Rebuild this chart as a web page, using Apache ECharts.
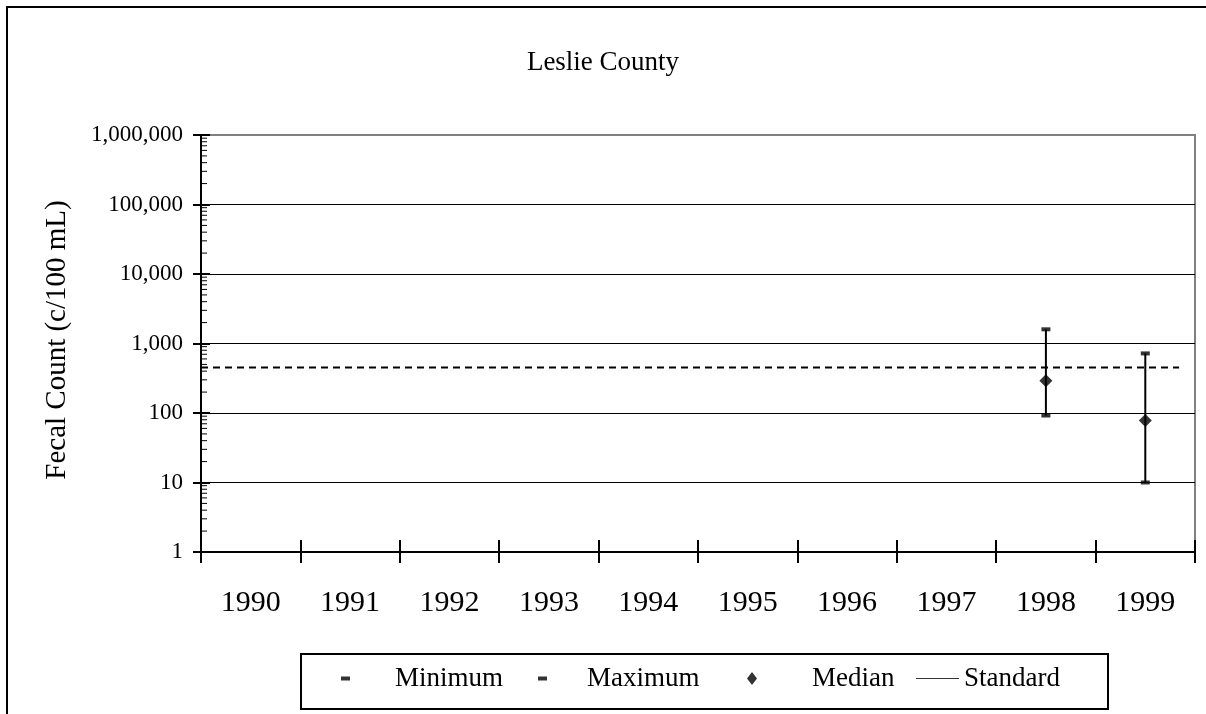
<!DOCTYPE html>
<html><head><meta charset="utf-8">
<script src="https://cdn.jsdelivr.net/npm/echarts@6/dist/echarts.min.js"></script>
<style>html,body{margin:0;padding:0;background:#fff}#chart{width:1206px;height:714px}</style>
</head><body><div id="chart"></div>
<script>
// ---- data ----
const years = ['1990','1991','1992','1993','1994','1995','1996','1997','1998','1999'];
const minimum = [null,null,null,null,null,null,null,null,92,10];
const maximum = [null,null,null,null,null,null,null,null,1600,720];
const median  = [null,null,null,null,null,null,null,null,290,78];
const standardValue = 450;
const yTickLabels = ['1','10','100','1,000','10,000','100,000','1,000,000'];
const decades = [1,10,100,1000,10000,100000];
const minorMultipliers = [2,3,4,5,6,7,8,9];

const FONT = 'Liberation Serif';
const minorTicks = [];
decades.forEach(d => minorMultipliers.forEach(m => minorTicks.push([0, d * m])));
const highLow = [];
years.forEach((y, i) => { if (minimum[i] != null && maximum[i] != null) highLow.push([i, minimum[i], maximum[i]]); });

const chart = echarts.init(document.getElementById('chart'), null, {renderer: 'canvas'});
const tickStyle = {color: '#000', width: 2};
chart.setOption({
  animation: false,
  backgroundColor: '#fff',
  title: {
    text: 'Leslie County', left: 'center', top: 44,
    textStyle: {fontFamily: FONT, fontSize: 27, fontWeight: 'normal', color: '#000'}
  },
  grid: {left: 201, right: 11, top: 135, bottom: 162, show: true, borderColor: '#808080', borderWidth: 2, backgroundColor: 'transparent'},
  xAxis: [{
    type: 'category', data: years, position: 'bottom', boundaryGap: true,
    axisLine: {show: true, lineStyle: {color: '#000', width: 2}},
    axisTick: {show: true, length: 11, lineStyle: tickStyle},
    axisLabel: {fontFamily: FONT, fontSize: 30, color: '#000', margin: 36},
    splitLine: {show: false}
  }, {
    type: 'category', data: years, position: 'bottom', boundaryGap: true,
    axisLine: {show: false},
    axisTick: {show: true, inside: true, length: 12, lineStyle: tickStyle},
    axisLabel: {show: false}, splitLine: {show: false}
  }],
  yAxis: [{
    type: 'log', logBase: 10, min: 1, max: 1000000,
    axisLine: {show: true, onZero: false, lineStyle: {color: '#000', width: 2}},
    axisTick: {show: true, length: 8, lineStyle: tickStyle},
    axisLabel: {fontFamily: FONT, fontSize: 23, color: '#000', margin: 18,
      formatter: v => yTickLabels[Math.round(Math.log10(v))]},
    splitLine: {show: true, lineStyle: {color: ['#000','#000','#000','#000','#000','#000','#808080'], width: 1}}
  }, {
    type: 'log', logBase: 10, min: 1, max: 1000000, position: 'left',
    axisLine: {show: false},
    axisTick: {show: true, inside: true, length: 9, lineStyle: tickStyle},
    axisLabel: {show: false}, splitLine: {show: false}
  }],
  legend: [
    {data: [{name: 'Minimum', icon: 'rect'}], left: 341, top: 665, padding: 0, itemWidth: 9, itemHeight: 4, selectedMode: false,
      textStyle: {fontFamily: FONT, fontSize: 27, color: '#000', padding: [0,0,0,40]}},
    {data: [{name: 'Maximum', icon: 'rect'}], left: 538, top: 665, padding: 0, itemWidth: 9, itemHeight: 4, selectedMode: false,
      textStyle: {fontFamily: FONT, fontSize: 27, color: '#000', padding: [0,0,0,35]}},
    {data: [{name: 'Median', icon: 'diamond'}], left: 747, top: 665, padding: 0, itemWidth: 10, itemHeight: 13, selectedMode: false,
      textStyle: {fontFamily: FONT, fontSize: 27, color: '#000', padding: [0,0,0,50]}},
    {data: [{name: 'Standard', icon: 'rect', itemStyle: {color: '#333'}}], left: 916, top: 665, padding: 0, itemWidth: 43, itemHeight: 1, selectedMode: false,
      textStyle: {fontFamily: FONT, fontSize: 27, color: '#000', padding: 0}}
  ],
  graphic: [
    {type: 'rect', shape: {x: 7, y: 7, width: 1220, height: 730}, style: {fill: 'none', stroke: '#000', lineWidth: 2}, silent: true},
    {type: 'rect', shape: {x: 301, y: 654, width: 807, height: 55}, style: {fill: 'none', stroke: '#000', lineWidth: 2}, silent: true},
    {type: 'text', x: 57, y: 340, rotation: Math.PI / 2,
      style: {text: 'Fecal Count (c/100 mL)', fontFamily: FONT, fontSize: 29, fill: '#000', align: 'center', verticalAlign: 'middle'}}
  ],
  series: [
    {
      type: 'custom', name: 'minorTicks', data: minorTicks, silent: true, clip: false, z: 5,
      encode: {x: 0, y: 1},
      renderItem: (params, api) => {
        const cs = params.coordSys;
        const p = api.coord([0, api.value(1)]);
        return {type: 'line', shape: {x1: cs.x, y1: p[1], x2: cs.x + 6, y2: p[1]}, style: {stroke: '#000', lineWidth: 1}};
      }
    },
    {
      type: 'custom', name: 'Standard', data: [[years.length - 1, standardValue]], silent: true, z: 3,
      itemStyle: {color: '#000'},
      encode: {x: 0, y: 1},
      renderItem: (params, api) => {
        const cs = params.coordSys;
        const p = api.coord([api.value(0), api.value(1)]);
        const band = api.size([1, 0])[0];
        return {type: 'line', shape: {x1: cs.x, y1: p[1], x2: p[0] + band * 0.34, y2: p[1]},
          style: {stroke: '#000', lineWidth: 2, lineDash: [7, 5]}};
      }
    },
    {
      type: 'custom', name: 'HighLow', data: highLow, silent: true, z: 4,
      encode: {x: 0, y: [1, 2]},
      renderItem: (params, api) => {
        const lo = api.coord([api.value(0), api.value(1)]);
        const hi = api.coord([api.value(0), api.value(2)]);
        return {type: 'line', shape: {x1: lo[0], y1: lo[1], x2: hi[0], y2: hi[1]}, style: {stroke: '#000', lineWidth: 2}};
      }
    },
    {type: 'scatter', name: 'Minimum', data: minimum, symbol: 'rect', symbolSize: [9, 4], itemStyle: {color: '#000'}, z: 6},
    {type: 'scatter', name: 'Maximum', data: maximum, symbol: 'rect', symbolSize: [9, 4], itemStyle: {color: '#000'}, z: 6},
    {type: 'scatter', name: 'Median', data: median, symbol: 'diamond', symbolSize: [13, 13], itemStyle: {color: '#000'}, z: 7}
  ]
});
</script></body></html>
